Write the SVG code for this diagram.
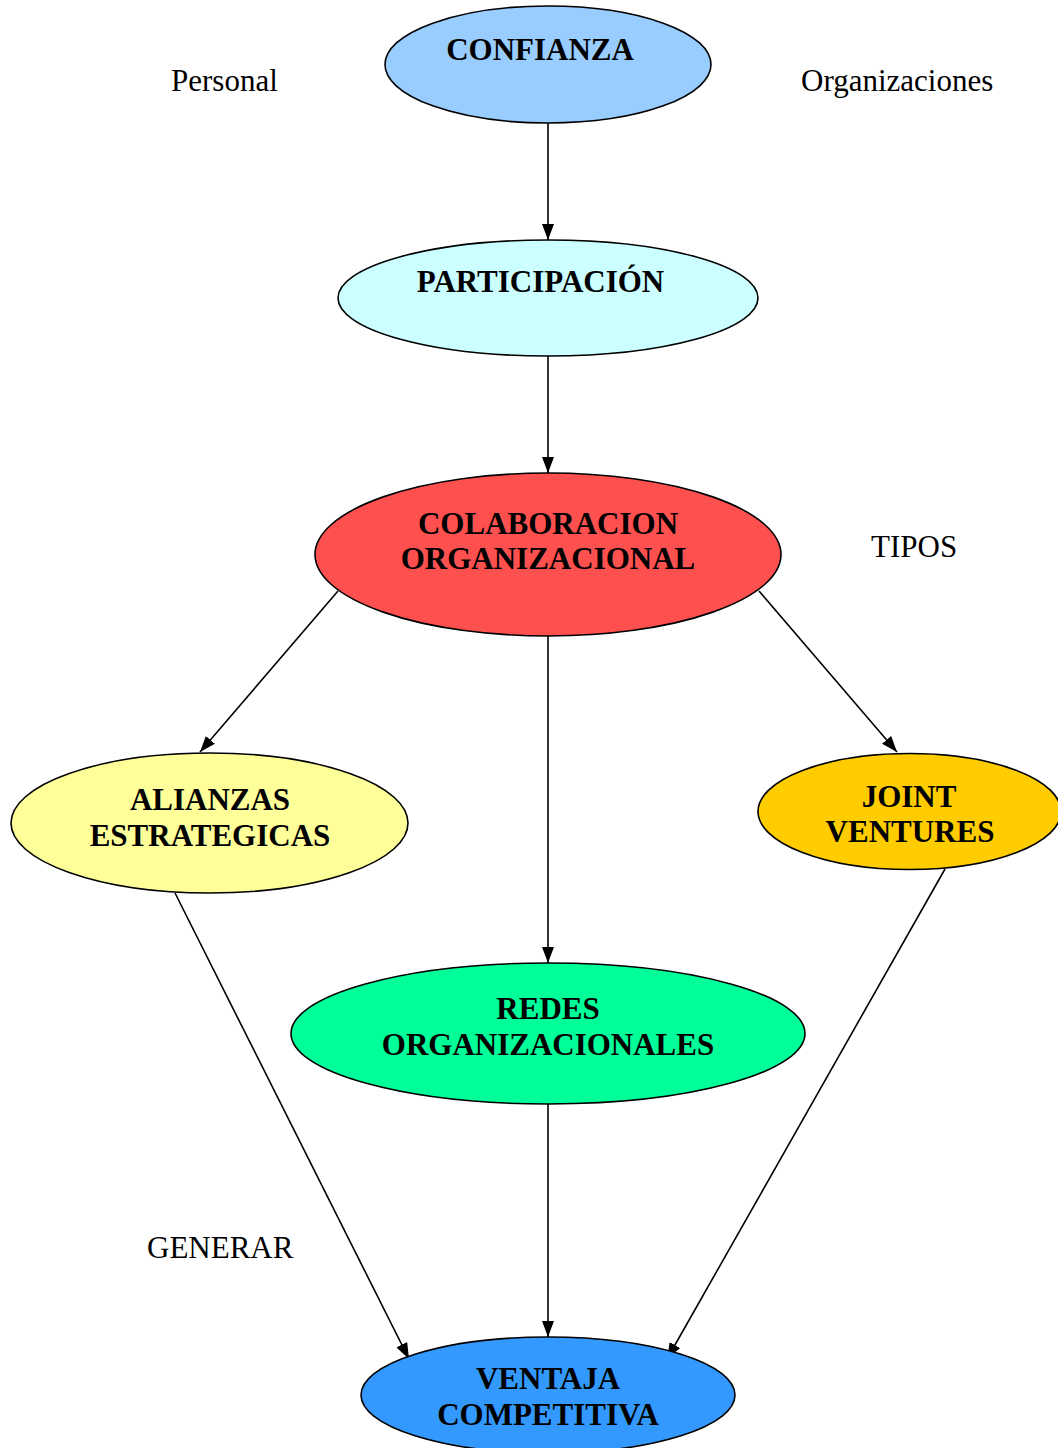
<svg xmlns="http://www.w3.org/2000/svg" width="1058" height="1448" viewBox="0 0 1058 1448">
<defs>
<marker id="ah" viewBox="0 0 16 12" refX="16" refY="6" markerWidth="16" markerHeight="12" markerUnits="userSpaceOnUse" orient="auto">
<path d="M0,0 L16,6 L0,12 Z" fill="#000"/>
</marker>
<style>
.n{stroke:#000;stroke-width:1.6}
.t{font-family:"Liberation Serif","Times New Roman",serif;font-weight:bold;font-size:31px;text-anchor:middle;fill:#000}
.l{font-family:"Liberation Serif","Times New Roman",serif;font-size:31px;fill:#000}
.c{stroke:#000;stroke-width:1.6;fill:none;marker-end:url(#ah)}
</style>
</defs>
<rect width="1058" height="1448" fill="#fff"/>
<g id="connectors">
<line class="c" x1="548" y1="123" x2="548" y2="240"/>
<line class="c" x1="548" y1="356" x2="548" y2="473"/>
<line class="c" x1="338" y1="591" x2="200" y2="752"/>
<line class="c" x1="759" y1="591" x2="897" y2="752"/>
<line class="c" x1="548" y1="636" x2="548" y2="963"/>
<line class="c" x1="175" y1="893" x2="409" y2="1359"/>
<line class="c" x1="548" y1="1104" x2="548" y2="1337"/>
<line class="c" x1="945" y1="869" x2="667" y2="1359"/>
</g>
<g id="confianza">
<ellipse class="n" cx="548" cy="64.5" rx="163" ry="58.5" fill="#99CCFF"/>
<text class="t" x="540" y="60">CONFIANZA</text>
</g>
<g id="participacion">
<ellipse class="n" cx="548" cy="298" rx="210" ry="58" fill="#CCFFFF"/>
<text class="t" x="540.5" y="292">PARTICIPACIÓN</text>
</g>
<g id="colaboracion">
<ellipse class="n" cx="548" cy="554.5" rx="233" ry="81.5" fill="#FF5050"/>
<text class="t" x="548" y="534">COLABORACION</text>
<text class="t" x="548" y="569">ORGANIZACIONAL</text>
</g>
<g id="alianzas">
<ellipse class="n" cx="209.5" cy="823" rx="198.5" ry="70" fill="#FFFF99"/>
<text class="t" x="210" y="810">ALIANZAS</text>
<text class="t" x="210" y="846">ESTRATEGICAS</text>
</g>
<g id="joint">
<ellipse class="n" cx="909.5" cy="811.5" rx="151.5" ry="58" fill="#FFCC00"/>
<text class="t" x="909" y="807">JOINT</text>
<text class="t" x="910" y="842">VENTURES</text>
</g>
<g id="redes">
<ellipse class="n" cx="548" cy="1033.5" rx="257" ry="70.5" fill="#00FF99"/>
<text class="t" x="548" y="1019">REDES</text>
<text class="t" x="548" y="1055">ORGANIZACIONALES</text>
</g>
<g id="ventaja">
<ellipse class="n" cx="548" cy="1395" rx="187" ry="58" fill="#3399FF"/>
<text class="t" x="548" y="1389">VENTAJA</text>
<text class="t" x="548" y="1425">COMPETITIVA</text>
</g>
<g id="labels">
<text class="l" x="171" y="91">Personal</text>
<text class="l" x="801" y="91">Organizaciones</text>
<text class="l" x="871" y="557">TIPOS</text>
<text class="l" x="147" y="1258">GENERAR</text>
</g>
</svg>
